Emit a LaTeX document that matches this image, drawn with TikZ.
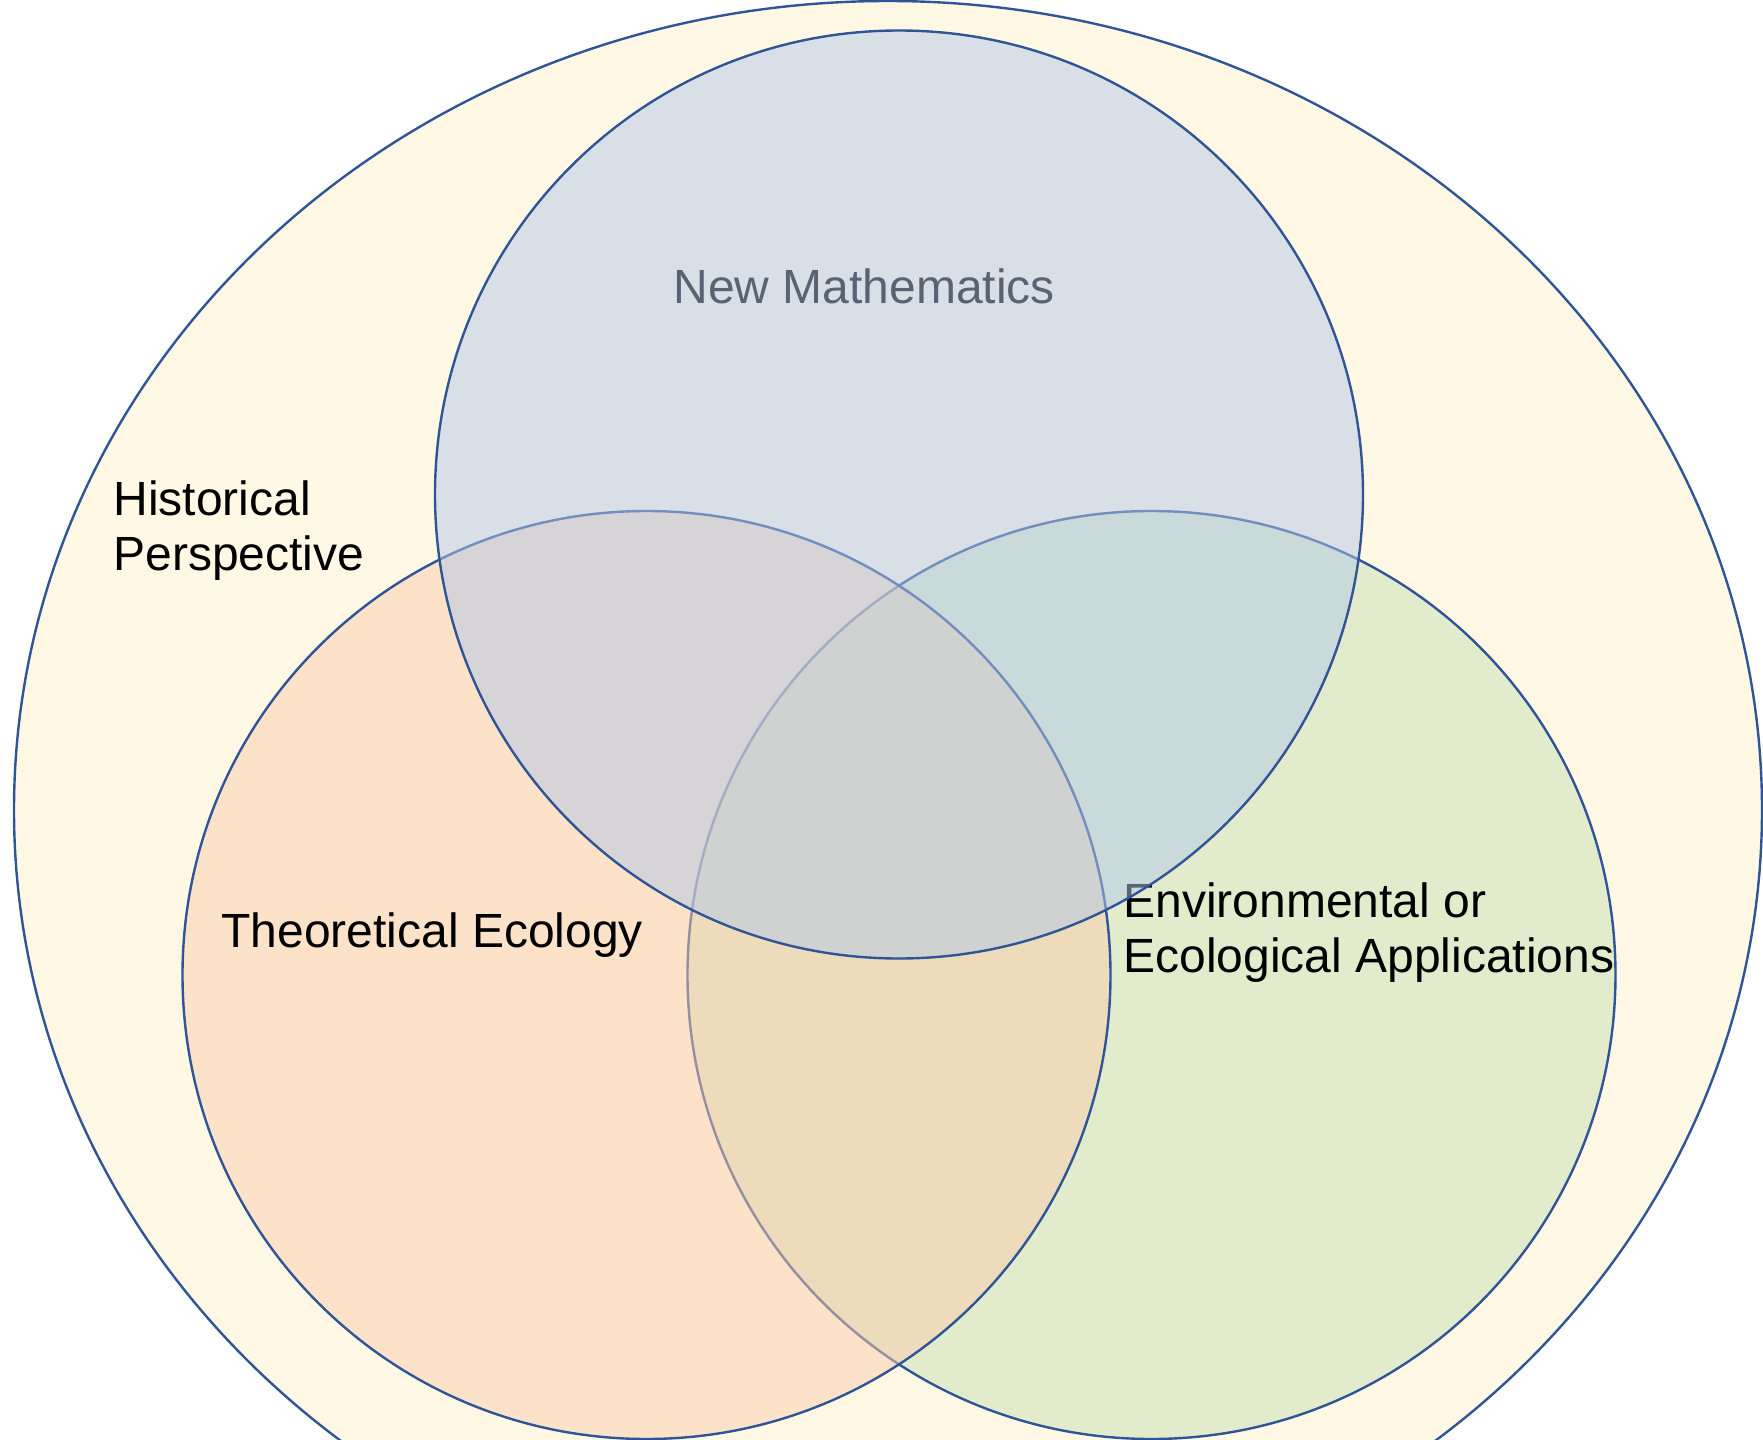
\documentclass[tikz,border=0pt]{standalone}
\usepackage{fontspec}
\setmainfont{Liberation Sans}
\definecolor{lineblue}{HTML}{2F5597}
\definecolor{cream}{HTML}{FFF2CC}
\definecolor{topblue}{HTML}{B4C7E7}
\definecolor{leftorange}{HTML}{F8CBAD}
\definecolor{rightgreen}{HTML}{C5E0B4}
\begin{document}
\begin{tikzpicture}[x=0.5pt,y=-0.5pt,
  vennset/.style={draw=lineblue, line width=1.2pt, fill opacity=0.5},
  lbl/.style={anchor=base west, inner sep=0pt, text=black, font=\fontsize{24}{27.6}\selectfont}]
\useasboundingbox (0,0) rectangle (1763,1440);
\clip (0,0) rectangle (1763,1440);
% outer set
\path[vennset, fill=cream] (888,810) ellipse [x radius=437pt, y radius=404.5pt];
% right and left circles
\path[vennset, fill=rightgreen] (1151.5,975) circle [radius=232pt];
\path[vennset, fill=leftorange] (646.5,975) circle [radius=232pt];
% labels
\node[lbl] (hist1) at (113,515) {Historical};
\node[lbl] (hist2) at (113,570) {Perspective};
\node[lbl] (newmath) at (673,303) {New Mathematics};
\node[lbl] (theo) at (221,947) {Theoretical Ecology};
\node[lbl] (env1) at (1123,917) {Environmental or};
\node[lbl] (env2) at (1123,972) {Ecological Applications};
% top circle
\path[vennset, fill=topblue] (899,494.5) circle [radius=232pt];
\end{tikzpicture}
\end{document}
